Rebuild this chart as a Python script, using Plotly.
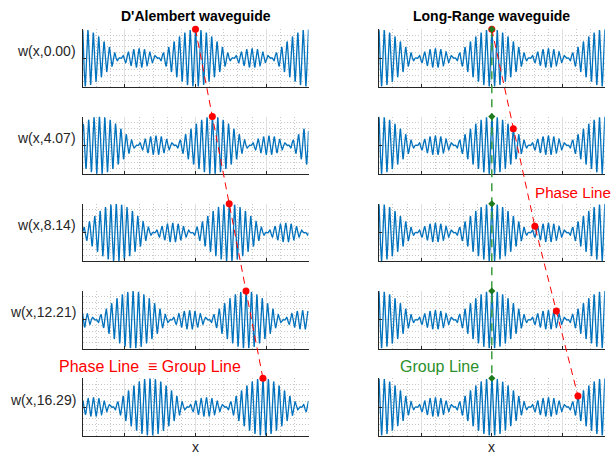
import numpy as np
import plotly.graph_objects as go

# ---------------- data ----------------
times = [0.00, 4.07, 8.14, 12.21, 16.29]
column_titles = ["D'Alembert waveguide", "Long-Range waveguide"]
x_limits = [-80.0, 80.0]
y_limits = [-1.0, 1.0]
x_major_step = 50
x_minor_step = 10
y_major_step = 1
y_minor_step = 0.2

envelope_period = 80.0     # spatial period of the beat envelope
carrier_cycles = 21        # carrier wavelengths per envelope period
c_dalembert = 2.93         # propagation speed of the D'Alembert guide
phase_speed_lr = 3.744     # carrier phase speed of the long-range guide (group speed 0)

# ---------------- model ----------------
dk = 2 * np.pi / envelope_period
k0 = carrier_cycles * dk
wavenumbers = np.array([k0 - dk, k0, k0 + dk])
omega_lr = k0 * phase_speed_lr
wavelength = 2 * np.pi / k0

x = np.linspace(x_limits[0], x_limits[1], 4001)


def w_dalembert(xx, t):
    xx = np.atleast_1d(xx)
    return np.mean([np.cos(k * (xx - c_dalembert * t)) for k in wavenumbers], axis=0)


def w_longrange(xx, t):
    xx = np.atleast_1d(xx)
    return np.mean([np.cos(k * xx - omega_lr * t) for k in wavenumbers], axis=0)


# ---------------- page geometry (px) ----------------
W, H = 613, 455
col_px = [(82.5, 308.5), (378.8, 604.8)]
row_top_px = [29.3 + 87.25 * i for i in range(len(times))]
row_h_px = 57.5

BLUE = "#0072BD"
RED = "#FF0000"
GREEN_LINE = "#3c9d3c"
GREEN_MARK = "#1f7a1f"
GREEN_TEXT = "#2b8f2b"
AXIS = "#262626"
FONT = "Liberation Sans, Arial, Helvetica, sans-serif"


def px_x(p):
    return p / W


def px_y(p):
    return 1 - p / H


def row_domain(i):
    return [px_y(row_top_px[i] + row_h_px), px_y(row_top_px[i])]


def paper_y(i, val):
    d0, d1 = row_domain(i)
    return d0 + (val - y_limits[0]) / (y_limits[1] - y_limits[0]) * (d1 - d0)


fig = go.Figure()
layout = dict()

grid_major = "#dfdfdf"
grid_minor = "#c8c8c8"

idx = 0
for col in range(2):
    for i, t in enumerate(times):
        idx += 1
        xa = "x" if idx == 1 else f"x{idx}"
        ya = "y" if idx == 1 else f"y{idx}"
        wave = w_dalembert(x, t) if col == 0 else w_longrange(x, t)
        fig.add_trace(go.Scatter(x=x, y=wave, mode="lines",
                                 line=dict(color=BLUE, width=1.3),
                                 xaxis=xa, yaxis=ya, showlegend=False,
                                 hoverinfo="skip"))
        layout["xaxis" if idx == 1 else f"xaxis{idx}"] = dict(
            domain=[px_x(col_px[col][0]), px_x(col_px[col][1])],
            range=x_limits, anchor=ya,
            tickmode="linear", tick0=0, dtick=x_major_step,
            showticklabels=False, ticks="inside", ticklen=3, tickwidth=1,
            tickcolor=AXIS, showline=True, linecolor=AXIS, linewidth=1,
            showgrid=True, gridcolor=grid_major, gridwidth=1, zeroline=False,
            minor=dict(tickmode="linear", tick0=0, dtick=x_minor_step,
                       showgrid=True, gridcolor=grid_minor,
                       griddash="1px,2px", gridwidth=1, ticks=""),
        )
        layout["yaxis" if idx == 1 else f"yaxis{idx}"] = dict(
            domain=row_domain(i), range=y_limits, anchor=xa,
            tickmode="linear", tick0=0, dtick=y_major_step,
            showticklabels=False, ticks="inside", ticklen=3, tickwidth=1,
            tickcolor=AXIS, showline=True, linecolor=AXIS, linewidth=1,
            showgrid=True, gridcolor=grid_major, gridwidth=1, zeroline=False,
            minor=dict(tickmode="linear", tick0=0, dtick=y_minor_step,
                       showgrid=True, gridcolor=grid_minor,
                       griddash="1px,2px", gridwidth=1, ticks=""),
        )

# ---------------- phase / group tracking (overlay axes in page units) ----------------
for col, (xa, ya) in enumerate([("x11", "y11"), ("x12", "y12")]):
    n = 11 + col
    layout[f"xaxis{n}"] = dict(domain=[px_x(col_px[col][0]), px_x(col_px[col][1])],
                               range=x_limits, anchor=ya, visible=False)
    layout[f"yaxis{n}"] = dict(domain=[0, 1], range=[0, 1], anchor=xa, visible=False)

# D'Alembert: phase point = group point, moving at c
xp_left = [c_dalembert * t for t in times]
yp_left = [paper_y(i, float(w_dalembert(xp, t)[0])) for i, (xp, t) in enumerate(zip(xp_left, times))]

# Long-range: carrier crest moves at phase speed, envelope stays at x = 0
xp_right, yp_right = [], []
for i, t in enumerate(times):
    xp = phase_speed_lr * t
    win = np.linspace(xp - wavelength / 2, xp + wavelength / 2, 201)
    xp_right.append(xp)
    yp_right.append(paper_y(i, float(np.max(w_longrange(win, t)))))
xg_right = [0.0 for _ in times]
yg_right = [paper_y(i, float(w_longrange(0.0, t)[0])) for i, t in enumerate(times)]

fig.add_trace(go.Scatter(x=xp_left, y=yp_left, mode="lines",
                         line=dict(color=RED, width=1, dash="7px,5px"),
                         xaxis="x11", yaxis="y11", showlegend=False, hoverinfo="skip"))
fig.add_trace(go.Scatter(x=xp_left, y=yp_left, mode="markers",
                         marker=dict(color=RED, size=7, line=dict(width=0)),
                         xaxis="x11", yaxis="y11", showlegend=False, hoverinfo="skip",
                         cliponaxis=False))

fig.add_trace(go.Scatter(x=xg_right, y=yg_right, mode="lines",
                         line=dict(color=GREEN_LINE, width=1.5, dash="8px,6px"),
                         xaxis="x12", yaxis="y12", showlegend=False, hoverinfo="skip"))
fig.add_trace(go.Scatter(x=xp_right, y=yp_right, mode="lines",
                         line=dict(color=RED, width=1, dash="7px,5px"),
                         xaxis="x12", yaxis="y12", showlegend=False, hoverinfo="skip"))
fig.add_trace(go.Scatter(x=xp_right, y=yp_right, mode="markers",
                         marker=dict(color=RED, size=7, line=dict(width=0)),
                         xaxis="x12", yaxis="y12", showlegend=False, hoverinfo="skip",
                         cliponaxis=False))
fig.add_trace(go.Scatter(x=xg_right, y=yg_right, mode="markers",
                         marker=dict(color=GREEN_MARK, size=5.5, symbol="diamond",
                                     line=dict(width=0)),
                         xaxis="x12", yaxis="y12", showlegend=False, hoverinfo="skip",
                         cliponaxis=False))

# ---------------- text ----------------
ann = []
for col, title in enumerate(column_titles):
    cx = px_x((col_px[col][0] + col_px[col][1]) / 2)
    ann.append(dict(text=f"<b>{title}</b>", x=cx, y=px_y(16.5), xref="paper", yref="paper",
                    xanchor="center", yanchor="middle", showarrow=False,
                    font=dict(size=14, color="#000000", family=FONT)))
    ann.append(dict(text="x", x=cx, y=px_y(447), xref="paper", yref="paper",
                    xanchor="center", yanchor="middle", showarrow=False,
                    font=dict(size=14, color=AXIS, family=FONT)))

for i, t in enumerate(times):
    cy = row_top_px[i] + row_h_px / 2 - 7.5
    ann.append(dict(text=f"w(x,{t:.2f})", x=px_x(78), y=px_y(cy), xref="paper", yref="paper",
                    xanchor="right", yanchor="middle", showarrow=False,
                    font=dict(size=14, color=AXIS, family=FONT)))

ann.append(dict(text="Phase Line \u00a0\u2261 Group Line", x=px_x(57), y=px_y(366),
                xref="paper", yref="paper", xanchor="left", yanchor="middle",
                showarrow=False, font=dict(size=16, color=RED, family=FONT)))
ann.append(dict(text="Phase Line", x=px_x(533), y=px_y(192),
                xref="paper", yref="paper", xanchor="left", yanchor="middle",
                showarrow=False, font=dict(size=15.2, color=RED, family=FONT)))
ann.append(dict(text="Group Line", x=px_x(398), y=px_y(366),
                xref="paper", yref="paper", xanchor="left", yanchor="middle",
                showarrow=False, font=dict(size=16, color=GREEN_TEXT, family=FONT)))

fig.update_layout(**layout)
fig.update_layout(width=W, height=H, margin=dict(l=0, r=0, t=0, b=0),
                  paper_bgcolor="white", plot_bgcolor="rgba(0,0,0,0)",
                  annotations=ann, showlegend=False)

fig.write_html("out.html", config={"displayModeBar": False})
